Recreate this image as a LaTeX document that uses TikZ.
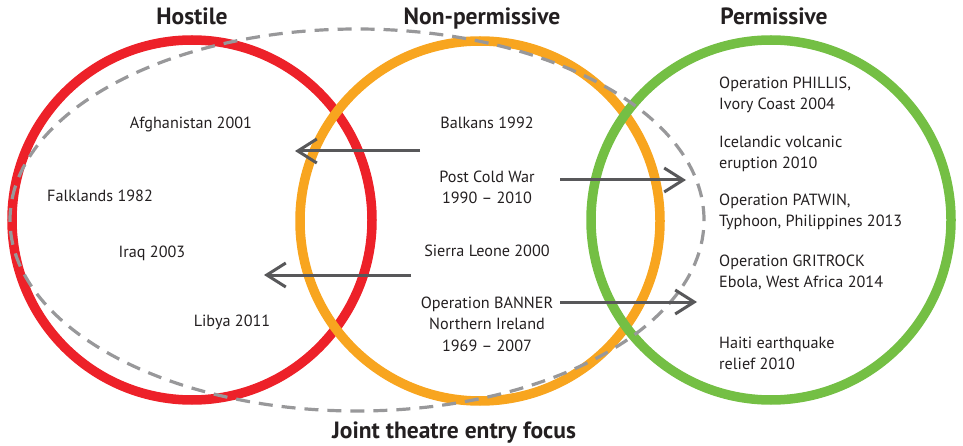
\documentclass[tikz,border=0pt]{standalone}
\usepackage{fontspec}
\setmainfont{PT Sans}
\usetikzlibrary{arrows.meta,shapes.geometric}
\definecolor{cred}{HTML}{ED2129}
\definecolor{corange}{HTML}{F8A51F}
\definecolor{cgreen}{HTML}{74BF44}
\definecolor{cdash}{HTML}{98989A}
\definecolor{carrow}{HTML}{58585A}
\definecolor{ctext}{HTML}{231F20}
\begin{document}
\begin{tikzpicture}[x=1pt,y=-1pt,
  ring/.style={circle, draw, line width=9.5pt, minimum size=360pt, inner sep=0pt},
  focus/.style={ellipse, draw=cdash, line width=3.2pt, dash pattern=on 14pt off 9pt,
                minimum width=694pt, minimum height=382pt, inner sep=0pt},
  title/.style={font=\bfseries\fontsize{23.5}{27}\selectfont, text=ctext, inner sep=0pt, anchor=base},
  lbl/.style={font=\fontsize{16.2}{21.5}\selectfont, text=ctext, inner sep=0pt},
  flow/.style={draw=carrow, line width=3pt, -{Straight Barb[length=19pt, width=24pt]}}]
\useasboundingbox (0,0) rectangle (963,446);
% circles
\node[ring, draw=cred] (hostile) at (192,220) {};
\node[ring, draw=corange] (nonperm) at (480,221) {};
\node[ring, draw=cgreen] (perm) at (771,220) {};
\node[focus] (joint) at (357,220) {};
% titles
\node[title] (thostile) at (192,25) {Hostile};
\node[title] (tnonperm) at (482,25) {Non-permissive};
\node[title] (tperm) at (774,25) {Permissive};
\node[title] (tjoint) at (454,438) {Joint theatre entry focus};
% hostile
\node[lbl, anchor=base] (afg) at (191,129) {Afghanistan 2001};
\node[lbl, anchor=base] (falk) at (100,202) {Falklands 1982};
\node[lbl, anchor=base] (iraq) at (152,258) {Iraq 2003};
\node[lbl, anchor=base] (libya) at (232,326) {Libya 2011};
% non-permissive
\node[lbl, anchor=base] (balkans) at (487,129) {Balkans 1992};
\node[lbl, anchor=north, align=center] (postcold) at (487,170.5) {Post Cold War\\1990 -- 2010};
\node[lbl, anchor=base] (sierra) at (487,256) {Sierra Leone 2000};
\node[lbl, anchor=north, align=center] (banner) at (487,296.5) {Operation BANNER\\Northern Ireland\\1969 -- 2007};
% permissive
\node[lbl, anchor=north west, align=left] (phillis) at (719,76.5) {Operation PHILLIS,\\Ivory Coast 2004};
\node[lbl, anchor=north west, align=left] (iceland) at (719,135.5) {Icelandic volcanic\\eruption 2010};
\node[lbl, anchor=north west, align=left] (patwin) at (719,193.5) {Operation PATWIN,\\Typhoon, Philippines 2013};
\node[lbl, anchor=north west, align=left] (gritrock) at (719,254.5) {Operation GRITROCK\\Ebola, West Africa 2014};
\node[lbl, anchor=north west, align=left] (haiti) at (719,336.5) {Haiti earthquake\\relief 2010};
% arrows
\coordinate (a1s) at (420,151); \coordinate (a1e) at (295,151);
\coordinate (a2s) at (560,180); \coordinate (a2e) at (686,180);
\coordinate (a3s) at (411,275); \coordinate (a3e) at (264,275);
\coordinate (a4s) at (560,302); \coordinate (a4e) at (697,302);
\draw[flow] (a1s) -- (a1e);
\draw[flow] (a2s) -- (a2e);
\draw[flow] (a3s) -- (a3e);
\draw[flow] (a4s) -- (a4e);
\end{tikzpicture}
\end{document}
